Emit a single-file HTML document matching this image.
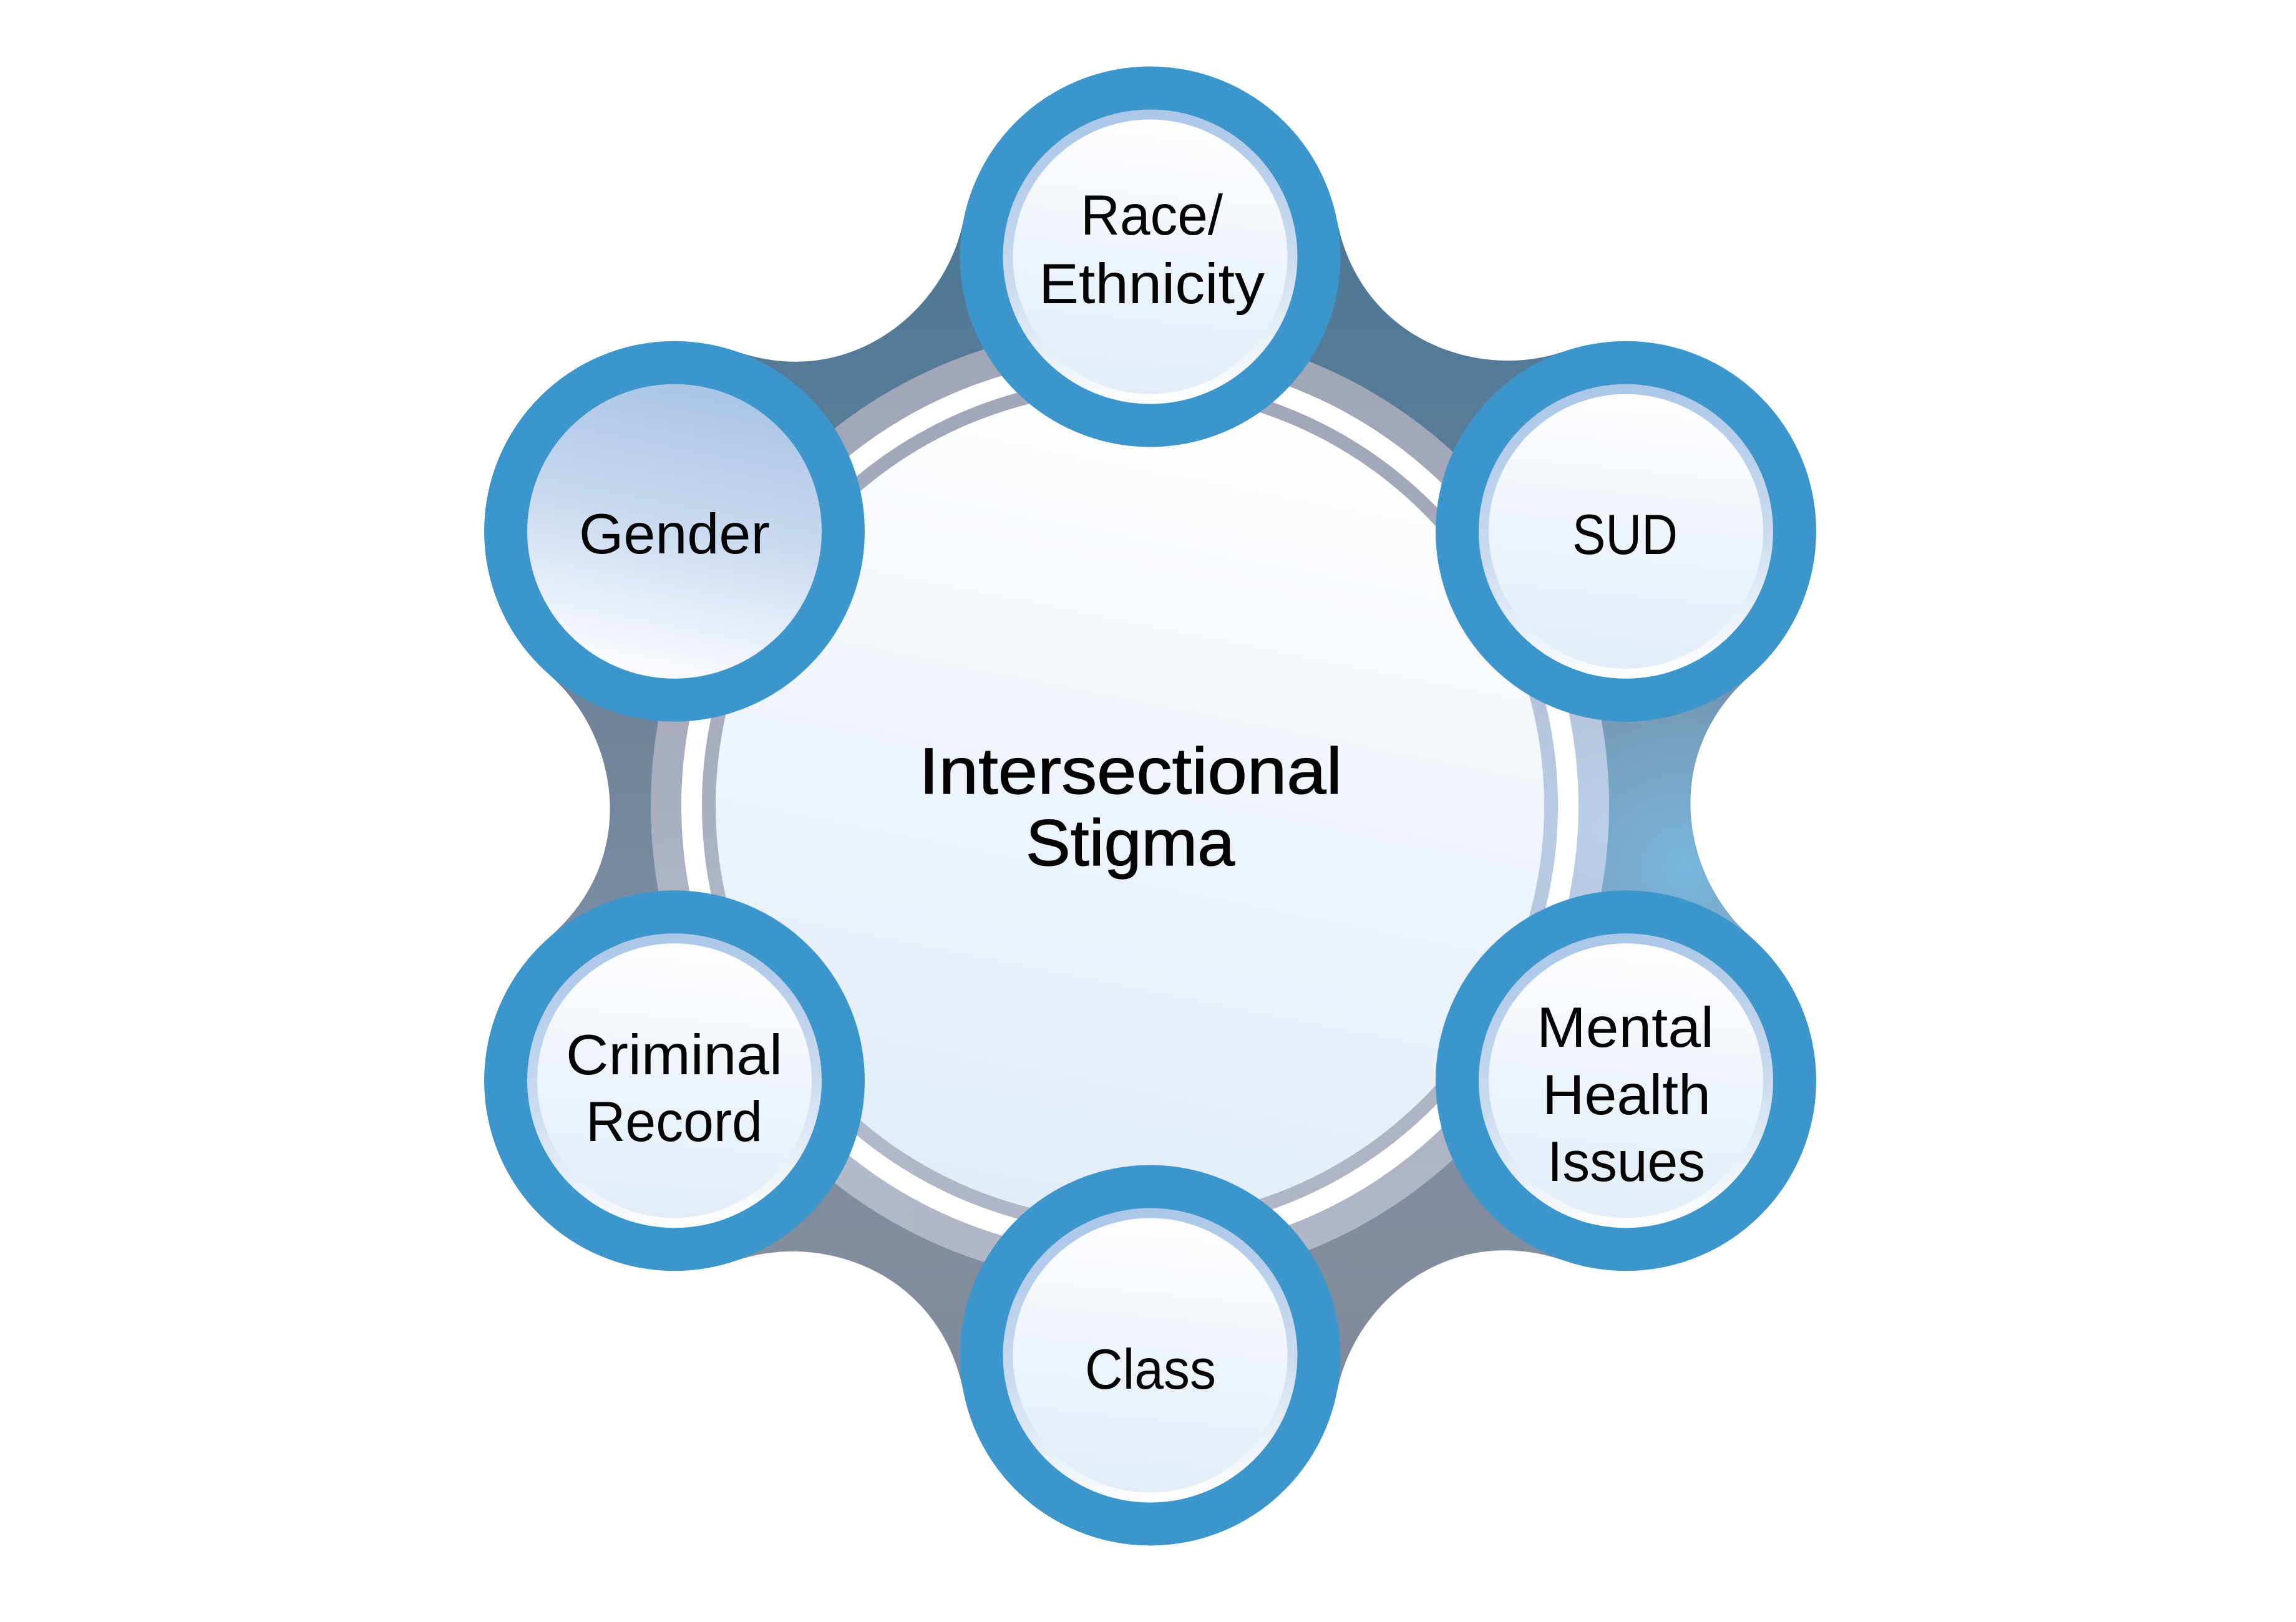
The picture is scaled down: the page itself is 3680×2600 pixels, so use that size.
<!DOCTYPE html>
<html>
<head>
<meta charset="utf-8">
<style>
  html, body { margin: 0; padding: 0; background: #ffffff; }
  body { width: 3680px; height: 2600px; overflow: hidden; }
  svg { display: block; }
  .lbl { font-family: "Liberation Sans", Arial, sans-serif; font-size: 91px; fill: #050505; }
  .title { font-family: "Liberation Sans", Arial, sans-serif; font-size: 105px; fill: #050505; stroke: #050505; stroke-width: 1.2px; }
</style>
</head>
<body>
<svg width="3680" height="2600" viewBox="0 0 3680 2600" xmlns="http://www.w3.org/2000/svg">
  <defs>
    <clipPath id="blobClip">
      <polygon points="1843.5,411.5 2606.04,851.75 2606.04,1732.25 1843.5,2172.5 1080.96,1732.25 1080.96,851.75"/>
      <path d="M 1080.96 851.75 L 1180.26 563.37 C 1364.64 626.86 1516.43 495.64 1544.10 353.30 L 1843.5 411.5 Z" transform="rotate(0 1843.5 1292)"/>
      <path d="M 1080.96 851.75 L 1180.26 563.37 C 1364.64 626.86 1516.43 495.64 1544.10 353.30 L 1843.5 411.5 Z" transform="rotate(60 1843.5 1292)"/>
      <path d="M 1080.96 851.75 L 1180.26 563.37 C 1364.64 626.86 1516.43 495.64 1544.10 353.30 L 1843.5 411.5 Z" transform="rotate(120 1843.5 1292)"/>
      <path d="M 1080.96 851.75 L 1180.26 563.37 C 1364.64 626.86 1516.43 495.64 1544.10 353.30 L 1843.5 411.5 Z" transform="rotate(180 1843.5 1292)"/>
      <path d="M 1080.96 851.75 L 1180.26 563.37 C 1364.64 626.86 1516.43 495.64 1544.10 353.30 L 1843.5 411.5 Z" transform="rotate(240 1843.5 1292)"/>
      <path d="M 1080.96 851.75 L 1180.26 563.37 C 1364.64 626.86 1516.43 495.64 1544.10 353.30 L 1843.5 411.5 Z" transform="rotate(300 1843.5 1292)"/>
    </clipPath>
    <linearGradient id="blobG" x1="0" y1="100" x2="0" y2="2480" gradientUnits="userSpaceOnUse">
      <stop offset="0" stop-color="#48758f"/>
      <stop offset="0.22" stop-color="#557b98"/>
      <stop offset="0.45" stop-color="#70849b"/>
      <stop offset="0.62" stop-color="#7b8ea5"/>
      <stop offset="0.8" stop-color="#828d9e"/>
      <stop offset="1" stop-color="#7b8596"/>
    </linearGradient>
    <radialGradient id="blobHi" cx="2700" cy="1390" r="420" gradientUnits="userSpaceOnUse">
      <stop offset="0" stop-color="#79b8e0" stop-opacity="0.95"/>
      <stop offset="0.55" stop-color="#7bb0d4" stop-opacity="0.6"/>
      <stop offset="1" stop-color="#7ea6c4" stop-opacity="0"/>
    </radialGradient>
    <linearGradient id="bandG" x1="0" y1="520" x2="0" y2="2060" gradientUnits="userSpaceOnUse">
      <stop offset="0" stop-color="#a0a5b8"/>
      <stop offset="0.5" stop-color="#a9aebf"/>
      <stop offset="1" stop-color="#b1b7c6"/>
    </linearGradient>
    <radialGradient id="bandHi" cx="2580" cy="1330" r="520" gradientUnits="userSpaceOnUse">
      <stop offset="0" stop-color="#bad0ea" stop-opacity="1"/>
      <stop offset="0.6" stop-color="#b6c9e2" stop-opacity="0.7"/>
      <stop offset="1" stop-color="#b0bfd6" stop-opacity="0"/>
    </radialGradient>
    <radialGradient id="bandHi2" cx="1120" cy="1750" r="450" gradientUnits="userSpaceOnUse">
      <stop offset="0" stop-color="#b8c4d6" stop-opacity="0.8"/>
      <stop offset="1" stop-color="#b8c4d6" stop-opacity="0"/>
    </radialGradient>
    <linearGradient id="centerFill" x1="0.6" y1="0" x2="0.4" y2="1">
      <stop offset="0" stop-color="#ffffff"/>
      <stop offset="0.5" stop-color="#eef4fb"/>
      <stop offset="1" stop-color="#e1ecf7"/>
    </linearGradient>
    <linearGradient id="nodeRing" x1="0.45" y1="0" x2="0.55" y2="1">
      <stop offset="0" stop-color="#aac6e8"/>
      <stop offset="0.55" stop-color="#cadbef"/>
      <stop offset="1" stop-color="#ffffff"/>
    </linearGradient>
    <linearGradient id="nodeFill" x1="0.55" y1="0" x2="0.45" y2="1">
      <stop offset="0" stop-color="#fefeff"/>
      <stop offset="0.5" stop-color="#eef4fb"/>
      <stop offset="1" stop-color="#e2edf8"/>
    </linearGradient>
    <linearGradient id="genderFill" x1="0.6" y1="0" x2="0.4" y2="1">
      <stop offset="0" stop-color="#a9c4e6"/>
      <stop offset="0.5" stop-color="#cbdbf0"/>
      <stop offset="1" stop-color="#fdfdff"/>
    </linearGradient>
  </defs>

  <!-- Background blob -->
  <g clip-path="url(#blobClip)">
    <rect x="0" y="0" width="3680" height="2600" fill="url(#blobG)"/>
    <rect x="0" y="0" width="3680" height="2600" fill="url(#blobHi)"/>
  </g>

  <!-- Central circle with rings -->
  <circle cx="1811" cy="1291.5" r="768" fill="url(#bandG)"/>
  <circle cx="1811" cy="1291.5" r="768" fill="url(#bandHi2)"/>
  <circle cx="1811" cy="1291.5" r="768" fill="url(#bandHi)"/>
  <circle cx="1811" cy="1291.5" r="719" fill="#ffffff"/>
  <circle cx="1811" cy="1291.5" r="686" fill="url(#bandG)"/>
  <circle cx="1811" cy="1291.5" r="686" fill="url(#bandHi2)"/>
  <circle cx="1811" cy="1291.5" r="686" fill="url(#bandHi)"/>
  <circle cx="1811" cy="1291.5" r="664" fill="url(#centerFill)"/>

  <text class="title" x="1473" y="1272" textLength="678" lengthAdjust="spacingAndGlyphs">Intersectional</text>
  <text class="title" x="1644" y="1387" textLength="335" lengthAdjust="spacingAndGlyphs">Stigma</text>

  <!-- Race / Ethnicity -->
  <circle cx="1843.5" cy="411.5" r="305" fill="#3d96cb"/>
  <circle cx="1843.5" cy="411.5" r="236" fill="url(#nodeRing)"/>
  <circle cx="1843.5" cy="411.5" r="220" fill="url(#nodeFill)"/>
  <text class="lbl" x="1732" y="376" textLength="228" lengthAdjust="spacingAndGlyphs">Race/</text>
  <text class="lbl" x="1665" y="486" textLength="362" lengthAdjust="spacingAndGlyphs">Ethnicity</text>

  <!-- SUD -->
  <circle cx="2606" cy="851.75" r="305" fill="#3d96cb"/>
  <circle cx="2606" cy="851.75" r="236" fill="url(#nodeRing)"/>
  <circle cx="2606" cy="851.75" r="220" fill="url(#nodeFill)"/>
  <text class="lbl" x="2520" y="888" textLength="169" lengthAdjust="spacingAndGlyphs">SUD</text>

  <!-- Mental Health Issues -->
  <circle cx="2606" cy="1732.25" r="305" fill="#3d96cb"/>
  <circle cx="2606" cy="1732.25" r="236" fill="url(#nodeRing)"/>
  <circle cx="2606" cy="1732.25" r="220" fill="url(#nodeFill)"/>
  <text class="lbl" x="2463" y="1678" textLength="284" lengthAdjust="spacingAndGlyphs">Mental</text>
  <text class="lbl" x="2472" y="1786" textLength="270" lengthAdjust="spacingAndGlyphs">Health</text>
  <text class="lbl" x="2480" y="1893" textLength="253" lengthAdjust="spacingAndGlyphs">Issues</text>

  <!-- Class -->
  <circle cx="1843.5" cy="2172.5" r="305" fill="#3d96cb"/>
  <circle cx="1843.5" cy="2172.5" r="236" fill="url(#nodeRing)"/>
  <circle cx="1843.5" cy="2172.5" r="220" fill="url(#nodeFill)"/>
  <text class="lbl" x="1739" y="2226" textLength="210" lengthAdjust="spacingAndGlyphs">Class</text>

  <!-- Criminal Record -->
  <circle cx="1081" cy="1732.25" r="305" fill="#3d96cb"/>
  <circle cx="1081" cy="1732.25" r="236" fill="url(#nodeRing)"/>
  <circle cx="1081" cy="1732.25" r="220" fill="url(#nodeFill)"/>
  <text class="lbl" x="907" y="1722" textLength="347" lengthAdjust="spacingAndGlyphs">Criminal</text>
  <text class="lbl" x="939" y="1829" textLength="283" lengthAdjust="spacingAndGlyphs">Record</text>

  <!-- Gender -->
  <circle cx="1081" cy="851.75" r="305" fill="#3d96cb"/>
  <circle cx="1081" cy="851.75" r="236" fill="url(#genderFill)"/>
  <text class="lbl" x="928" y="887" textLength="306" lengthAdjust="spacingAndGlyphs">Gender</text>
</svg>
</body>
</html>
